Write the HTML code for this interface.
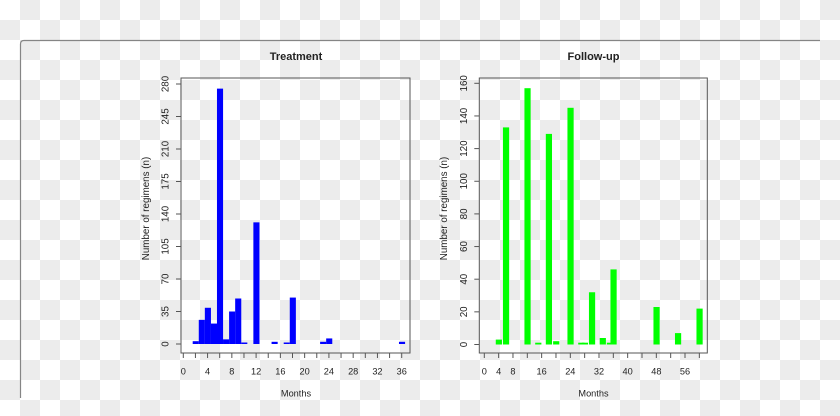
<!DOCTYPE html>
<html><head><meta charset="utf-8"><style>
html,body{margin:0;padding:0;width:840px;height:416px;overflow:hidden;background:#fff}
svg{display:block}
text{font-family:"Liberation Sans",Arial,sans-serif;fill:#222}
</style></head><body>
<svg width="840" height="416" viewBox="0 0 840 416" xmlns="http://www.w3.org/2000/svg">
<defs>
<pattern id="chk" x="0" y="0" width="40" height="40" patternUnits="userSpaceOnUse">
<rect x="0" y="0" width="40" height="40" fill="#ffffff"/>
<rect x="20" y="0" width="20" height="20" fill="#ececec"/>
<rect x="0" y="20" width="20" height="20" fill="#ececec"/>
</pattern>
</defs>
<rect x="0" y="0" width="840" height="416" fill="url(#chk)"/>
<path d="M20.5,398 V44 Q20.5,40.5 24,40.5 H820" fill="none" stroke="#858585" stroke-width="1.2"/>

<!-- LEFT: Treatment -->
<text x="296" y="60" font-size="11" font-weight="bold" text-anchor="middle">Treatment</text>
<g fill="#0000ff">
<rect x="192.7" y="341.2" width="6.1" height="2.8"/>
<rect x="198.77" y="319.86" width="6.1" height="24.14"/>
<rect x="204.84" y="307.78" width="6.1" height="36.22"/>
<rect x="210.9" y="323.57" width="6.1" height="20.43"/>
<rect x="216.97" y="88.63" width="6.1" height="255.37"/>
<rect x="223.04" y="339.36" width="6.1" height="4.64"/>
<rect x="229.1" y="311.5" width="6.1" height="32.5"/>
<rect x="235.17" y="298.5" width="6.1" height="45.5"/>
<rect x="241.24" y="342.5" width="6.1" height="1.5"/>
<rect x="253.37" y="222.35" width="6.1" height="121.65"/>
<rect x="271.57" y="341.8" width="6.1" height="2.2"/>
<rect x="283.71" y="342.5" width="6.1" height="1.5"/>
<rect x="289.77" y="297.57" width="6.1" height="46.43"/>
<rect x="320.11" y="341.8" width="6.1" height="2.2"/>
<rect x="326.17" y="338.43" width="6.1" height="5.57"/>
<rect x="398.98" y="341.8" width="6.1" height="2.2"/>
</g>
<rect x="181" y="78" width="229" height="275" fill="none" stroke="#555" stroke-width="1"/>
<g stroke="#555" stroke-width="1">
<line x1="176" x2="181" y1="344" y2="344"/>
<line x1="176" x2="181" y1="311.5" y2="311.5"/>
<line x1="176" x2="181" y1="279" y2="279"/>
<line x1="176" x2="181" y1="246.5" y2="246.5"/>
<line x1="176" x2="181" y1="214" y2="214"/>
<line x1="176" x2="181" y1="181.5" y2="181.5"/>
<line x1="176" x2="181" y1="149" y2="149"/>
<line x1="176" x2="181" y1="116.5" y2="116.5"/>
<line x1="176" x2="181" y1="84" y2="84"/>
<line y1="353" y2="358" x1="183.3" x2="183.3"/>
<line y1="353" y2="358" x1="195.43" x2="195.43"/>
<line y1="353" y2="358" x1="207.57" x2="207.57"/>
<line y1="353" y2="358" x1="219.7" x2="219.7"/>
<line y1="353" y2="358" x1="231.84" x2="231.84"/>
<line y1="353" y2="358" x1="243.97" x2="243.97"/>
<line y1="353" y2="358" x1="256.1" x2="256.1"/>
<line y1="353" y2="358" x1="268.24" x2="268.24"/>
<line y1="353" y2="358" x1="280.37" x2="280.37"/>
<line y1="353" y2="358" x1="292.51" x2="292.51"/>
<line y1="353" y2="358" x1="304.64" x2="304.64"/>
<line y1="353" y2="358" x1="316.77" x2="316.77"/>
<line y1="353" y2="358" x1="328.91" x2="328.91"/>
<line y1="353" y2="358" x1="341.04" x2="341.04"/>
<line y1="353" y2="358" x1="353.18" x2="353.18"/>
<line y1="353" y2="358" x1="365.31" x2="365.31"/>
<line y1="353" y2="358" x1="377.44" x2="377.44"/>
<line y1="353" y2="358" x1="389.58" x2="389.58"/>
<line y1="353" y2="358" x1="401.71" x2="401.71"/>
</g>
<g font-size="9.8" text-anchor="middle">
<text transform="translate(165.3,344) rotate(-90)" dy="0.35em">0</text>
<text transform="translate(165.3,311.5) rotate(-90)" dy="0.35em">35</text>
<text transform="translate(165.3,279) rotate(-90)" dy="0.35em">70</text>
<text transform="translate(165.3,246.5) rotate(-90)" dy="0.35em">105</text>
<text transform="translate(165.3,214) rotate(-90)" dy="0.35em">140</text>
<text transform="translate(165.3,181.5) rotate(-90)" dy="0.35em">175</text>
<text transform="translate(165.3,149) rotate(-90)" dy="0.35em">210</text>
<text transform="translate(165.3,116.5) rotate(-90)" dy="0.35em">245</text>
<text transform="translate(165.3,84) rotate(-90)" dy="0.35em">280</text>
</g>
<g font-size="9.2" text-anchor="middle">
<text x="183.3" y="374.5">0</text>
<text x="207.57" y="374.5">4</text>
<text x="231.84" y="374.5">8</text>
<text x="256.1" y="374.5">12</text>
<text x="280.37" y="374.5">16</text>
<text x="304.64" y="374.5">20</text>
<text x="328.91" y="374.5">24</text>
<text x="353.18" y="374.5">28</text>
<text x="377.44" y="374.5">32</text>
<text x="401.71" y="374.5">36</text>
</g>
<text x="296" y="396.5" font-size="9.2" text-anchor="middle">Months</text>
<text transform="translate(145.5,208.5) rotate(-90)" dy="0.35em" font-size="9.8" text-anchor="middle">Number of regimens (n)</text>

<!-- RIGHT: Follow-up -->
<text x="593.5" y="60" font-size="11" font-weight="bold" text-anchor="middle">Follow-up</text>
<g fill="#00ff00">
<rect x="495.77" y="339.6" width="6.2" height="4.9"/>
<rect x="502.94" y="127.4" width="6.2" height="217.1"/>
<rect x="524.44" y="88.2" width="6.2" height="256.3"/>
<rect x="535.19" y="342.7" width="6.2" height="1.8"/>
<rect x="545.81" y="133.9" width="6.2" height="210.6"/>
<rect x="553.11" y="341.2" width="6.2" height="3.3"/>
<rect x="567.45" y="107.8" width="6.2" height="236.7"/>
<rect x="578.2" y="342.7" width="6.2" height="1.8"/>
<rect x="581.8" y="342.7" width="6.2" height="1.8"/>
<rect x="588.95" y="292.26" width="6.2" height="52.24"/>
<rect x="599.7" y="338" width="6.2" height="6.5"/>
<rect x="606.87" y="342.7" width="6.2" height="1.8"/>
<rect x="610.46" y="269.4" width="6.2" height="75.1"/>
<rect x="653.46" y="307" width="6.2" height="37.5"/>
<rect x="674.97" y="333.1" width="6.2" height="11.4"/>
<rect x="696.47" y="308.6" width="6.2" height="35.9"/>
</g>
<rect x="479.3" y="78" width="228" height="275" fill="none" stroke="#555" stroke-width="1"/>
<g stroke="#555" stroke-width="1">
<line x1="474.3" x2="479.3" y1="344.5" y2="344.5"/>
<line x1="474.3" x2="479.3" y1="311.85" y2="311.85"/>
<line x1="474.3" x2="479.3" y1="279.2" y2="279.2"/>
<line x1="474.3" x2="479.3" y1="246.55" y2="246.55"/>
<line x1="474.3" x2="479.3" y1="213.9" y2="213.9"/>
<line x1="474.3" x2="479.3" y1="181.25" y2="181.25"/>
<line x1="474.3" x2="479.3" y1="148.6" y2="148.6"/>
<line x1="474.3" x2="479.3" y1="115.95" y2="115.95"/>
<line x1="474.3" x2="479.3" y1="83.3" y2="83.3"/>
<line y1="353" y2="358" x1="484.3" x2="484.3"/>
<line y1="353" y2="358" x1="498.64" x2="498.64"/>
<line y1="353" y2="358" x1="512.97" x2="512.97"/>
<line y1="353" y2="358" x1="527.31" x2="527.31"/>
<line y1="353" y2="358" x1="541.64" x2="541.64"/>
<line y1="353" y2="358" x1="555.98" x2="555.98"/>
<line y1="353" y2="358" x1="570.32" x2="570.32"/>
<line y1="353" y2="358" x1="584.65" x2="584.65"/>
<line y1="353" y2="358" x1="598.99" x2="598.99"/>
<line y1="353" y2="358" x1="613.32" x2="613.32"/>
<line y1="353" y2="358" x1="627.66" x2="627.66"/>
<line y1="353" y2="358" x1="642" x2="642"/>
<line y1="353" y2="358" x1="656.33" x2="656.33"/>
<line y1="353" y2="358" x1="670.67" x2="670.67"/>
<line y1="353" y2="358" x1="685" x2="685"/>
<line y1="353" y2="358" x1="699.34" x2="699.34"/>
</g>
<g font-size="9.8" text-anchor="middle">
<text transform="translate(463.5,344.5) rotate(-90)" dy="0.35em">0</text>
<text transform="translate(463.5,311.85) rotate(-90)" dy="0.35em">20</text>
<text transform="translate(463.5,279.2) rotate(-90)" dy="0.35em">40</text>
<text transform="translate(463.5,246.55) rotate(-90)" dy="0.35em">60</text>
<text transform="translate(463.5,213.9) rotate(-90)" dy="0.35em">80</text>
<text transform="translate(463.5,181.25) rotate(-90)" dy="0.35em">100</text>
<text transform="translate(463.5,148.6) rotate(-90)" dy="0.35em">120</text>
<text transform="translate(463.5,115.95) rotate(-90)" dy="0.35em">140</text>
<text transform="translate(463.5,83.3) rotate(-90)" dy="0.35em">160</text>
</g>
<g font-size="9.2" text-anchor="middle">
<text x="484.3" y="374.5">0</text>
<text x="498.64" y="374.5">4</text>
<text x="512.97" y="374.5">8</text>
<text x="541.64" y="374.5">16</text>
<text x="570.32" y="374.5">24</text>
<text x="598.99" y="374.5">32</text>
<text x="627.66" y="374.5">40</text>
<text x="656.33" y="374.5">48</text>
<text x="685" y="374.5">56</text>
</g>
<text x="593.5" y="396.5" font-size="9.2" text-anchor="middle">Months</text>
<text transform="translate(443.5,208.5) rotate(-90)" dy="0.35em" font-size="9.8" text-anchor="middle">Number of regimens (n)</text>
</svg>
</body></html>
